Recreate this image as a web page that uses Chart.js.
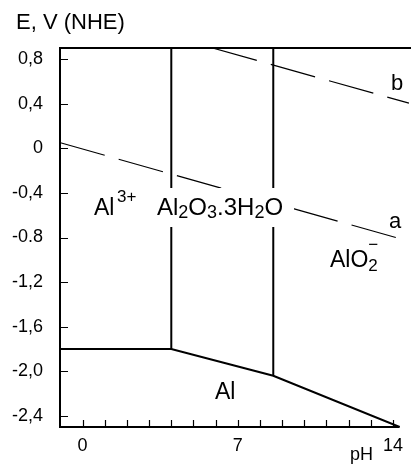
<!DOCTYPE html>
<html>
<head>
<meta charset="utf-8">
<script src="https://cdn.jsdelivr.net/npm/chart.js@4.4.1/dist/chart.umd.min.js"></script>
<style>
  body { margin: 0; background: #fff; }
  #wrap { width: 411px; height: 465px; position: relative; }
</style>
</head>
<body>
<div id="wrap"><canvas id="pourbaix"></canvas></div>
<script>
// axis ticks
var pHTicks = [0, 1, 2, 3, 4, 5, 6, 7, 8, 9, 10, 11, 12, 13, 14]
var pHLabels = { 0: '0', 7: '7', 14: '14' }
var eTicks = [0.8, 0.4, 0, -0.4, -0.8, -1.2, -1.6, -2.0, -2.4]
var eLabels = ['0,8', '0,4', '0', '-0,4', '-0.8', '-1,2', '-1,6', '-2,0', '-2,4']

// Al / Al3+ / Al2O3 / AlO2- boundary (bottom)
var alPH = [-1, 4, 8.6, 14.3]
var alE = [-1.80, -1.80, -2.04, -2.50]

// vertical boundaries Al3+ | Al2O3.3H2O | AlO2-
var vertPH = [4, 8.6]
var vertLowE = [-1.80, -2.04]
var topE = 0.9

// water lines
var aPH = [-1, 14.3]
var aE = [0.05, -0.81]
var bPH = [5.86, 14.72]
var bE = [0.9, 0.405]

function pts(xs, ys) {
    return xs.map(function (x, i) { return { x: x, y: ys[i] } })
}

var solid = { borderColor: '#000', borderWidth: 2, pointRadius: 0, showLine: true, fill: false, tension: 0 }
var dashed = { borderColor: '#000', borderWidth: 1.2, borderDash: [46, 14.5], pointRadius: 0, showLine: true, fill: false, tension: 0 }

var datasets = [
    Object.assign({ data: pts(alPH, alE) }, solid),
    Object.assign({ data: pts(aPH, aE) }, dashed),
    Object.assign({ data: pts(bPH, bE) }, dashed)
]
vertPH.forEach(function (p, i) {
    datasets.push(Object.assign({ data: pts([p, p], [vertLowE[i], topE]) }, solid))
})

var FONT = "'Liberation Sans', Arial, sans-serif"

// draw a run of text pieces (subscripts / superscripts)
function rich(ctx, x, y, parts) {
    var cx = x, prev = x
    parts.forEach(function (p) {
        ctx.font = p.size + 'px ' + FONT
        var px = p.over ? prev : cx
        ctx.fillText(p.t, px, y + (p.dy || 0))
        if (!p.over) {
            prev = cx
            cx += ctx.measureText(p.t).width
        }
    })
}

var decor = {
    id: 'decor',
    afterDatasetsDraw: function (chart) {
        var ctx = chart.ctx
        var a = chart.chartArea
        var xs = chart.scales.x, ys = chart.scales.y
        ctx.save()
        ctx.strokeStyle = '#000'
        ctx.fillStyle = '#000'
        ctx.lineWidth = 2
        // frame: top and bottom
        ctx.beginPath()
        ctx.moveTo(a.left - 1, a.top)
        ctx.lineTo(chart.width, a.top)
        ctx.moveTo(a.left - 1, a.bottom)
        ctx.lineTo(xs.getPixelForValue(alPH[alPH.length - 1]), a.bottom)
        ctx.stroke()
        // inner ticks
        ctx.lineWidth = 1.2
        ctx.beginPath()
        eTicks.forEach(function (v) {
            var y = Math.round(ys.getPixelForValue(v)) + 0.5
            ctx.moveTo(a.left, y)
            ctx.lineTo(a.left + 8, y)
        })
        pHTicks.forEach(function (v) {
            var x = Math.round(xs.getPixelForValue(v)) + 0.5
            ctx.moveTo(x, a.bottom)
            ctx.lineTo(x, a.bottom - 7)
        })
        ctx.stroke()

        // white box behind the hydroxide label
        ctx.fillStyle = '#fff'
        ctx.fillRect(152, 188, 142, 39)
        ctx.fillStyle = '#000'
        ctx.textBaseline = 'alphabetic'
        ctx.textAlign = 'left'

        rich(ctx, 16, 29, [{ t: 'E, V (NHE)', size: 22 }])
        rich(ctx, 94, 215, [{ t: 'Al', size: 23 }])
        rich(ctx, 117, 202, [{ t: '3+', size: 17 }])
        rich(ctx, 157, 215, [
            { t: 'Al', size: 24 }, { t: '2', size: 18, dy: 3 },
            { t: 'O', size: 24 }, { t: '3', size: 18, dy: 3 },
            { t: '.3H', size: 24 }, { t: '2', size: 18, dy: 3 },
            { t: 'O', size: 24 }
        ])
        rich(ctx, 389, 228, [{ t: 'a', size: 22 }])
        rich(ctx, 391, 90, [{ t: 'b', size: 22 }])
        rich(ctx, 330, 267, [
            { t: 'AlO', size: 23 }, { t: '2', size: 17, dy: 4 },
            { t: '\u2212', size: 17, dy: -17, over: true }
        ])
        rich(ctx, 215, 399, [{ t: 'Al', size: 23 }])
        rich(ctx, 350, 460, [{ t: 'pH', size: 18 }])
        ctx.restore()
    }
}

var ctx = document.getElementById('pourbaix').getContext('2d')
var myChart = new Chart(ctx, {
    type: 'scatter',
    data: { datasets: datasets },
    options: {
        responsive: true,
        maintainAspectRatio: false,
        animation: false,
        layout: { padding: { top: 48, right: 0, left: 0, bottom: 0 } },
        plugins: {
            legend: { display: false },
            tooltip: { enabled: false }
        },
        scales: {
            x: {
                type: 'linear',
                min: -1.02,
                max: 14.73,
                afterFit: function (s) { s.height = 38 },
                afterBuildTicks: function (s) { s.ticks = pHTicks.map(function (v) { return { value: v } }) },
                grid: { display: false, drawTicks: false },
                border: { display: false },
                ticks: {
                    autoSkip: false,
                    maxRotation: 0,
                    padding: 8,
                    color: '#000',
                    font: { family: FONT, size: 18 },
                    callback: function (v) { return pHLabels[v] || '' }
                }
            },
            y: {
                type: 'linear',
                min: -2.5,
                max: 0.9,
                afterFit: function (s) { s.width = 60 },
                afterBuildTicks: function (s) { s.ticks = eTicks.map(function (v) { return { value: v } }) },
                grid: { display: false, drawTicks: false },
                border: { display: true, color: '#000', width: 2 },
                ticks: {
                    autoSkip: false,
                    padding: 17,
                    color: '#000',
                    font: { family: FONT, size: 18 },
                    callback: function (v) {
                        for (var i = 0; i < eTicks.length; i++) {
                            if (Math.abs(eTicks[i] - v) < 1e-6) return eLabels[i]
                        }
                        return ''
                    }
                }
            }
        }
    },
    plugins: [decor]
});
</script>
</body>
</html>
